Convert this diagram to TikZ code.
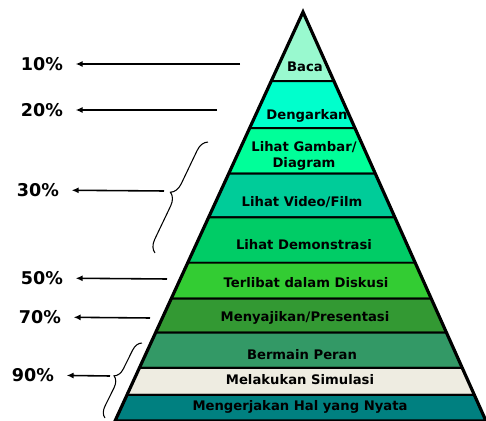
\documentclass[tikz,border=0pt]{standalone}
\usepackage{fontspec}
\setmainfont{DejaVu Sans}
\usetikzlibrary{arrows.meta,calc,decorations.pathreplacing}
\definecolor{cBaca}{HTML}{99F9CF}
\definecolor{cDengar}{HTML}{00FFCC}
\definecolor{cGambar}{HTML}{00FF99}
\definecolor{cVideo}{HTML}{00CC99}
\definecolor{cDemo}{HTML}{00CC66}
\definecolor{cDiskusi}{HTML}{33CC33}
\definecolor{cSaji}{HTML}{339933}
\definecolor{cPeran}{HTML}{339966}
\definecolor{cSimulasi}{HTML}{EEECE1}
\definecolor{cNyata}{HTML}{008080}
\tikzset{%
  band/.style={draw=black, line width=1.1pt},
  lapis/.style={font=\fontsize{7.5}{9}\selectfont\bfseries, text centered, align=center, inner sep=0pt},
  persen/.style={font=\fontsize{10}{12}\selectfont\bfseries, inner sep=0pt},
  line/.style={draw, line width=0.9pt, color=black, -{Latex[length=4pt,width=3.5pt]}, shorten >=7pt},
  kurung/.style={draw, line width=0.6pt, decorate, decoration={brace, amplitude=#1}},
}
\newcommand{\lapisan}[3]{%
  \path [band, fill=#3] ($(puncak)!#1!(kiri)$) -- ($(puncak)!#2!(kiri)$) -- ($(puncak)!#2!(kanan)$) -- ($(puncak)!#1!(kanan)$) -- cycle;}

\begin{document}
\begin{tikzpicture}[x=0.02cm, y=-0.02cm]
  \useasboundingbox (0,0) rectangle (486,421);
  \coordinate (puncak) at (303,12);
  \coordinate (kiri) at (115,421);
  \coordinate (kanan) at (486,421);

  % pyramid layers
  \lapisan{0}{0.169}{cBaca}
  \lapisan{0.169}{0.284}{cDengar}
  \lapisan{0.284}{0.395}{cGambar}
  \lapisan{0.395}{0.502}{cVideo}
  \lapisan{0.502}{0.613}{cDemo}
  \lapisan{0.613}{0.701}{cDiskusi}
  \lapisan{0.701}{0.784}{cSaji}
  \lapisan{0.784}{0.870}{cPeran}
  \lapisan{0.870}{0.936}{cSimulasi}
  \lapisan{0.936}{1}{cNyata}
  \draw [line width=1.8pt] (puncak) -- (kiri) -- (kanan) -- cycle;

  \node [lapis] (l1) at (305,67) {Baca};
  \node [lapis] (l2) at (307,116) {Dengarkan};
  \node [lapis] (l3) at (304,156) {Lihat Gambar/\\Diagram};
  \node [lapis] (l4) at (302,202) {Lihat Video/Film};
  \node [lapis] (l5) at (304,245) {Lihat Demonstrasi};
  \node [lapis] (l6) at (306,283) {Terlibat dalam Diskusi};
  \node [lapis] (l7) at (305,318) {Menyajikan/Presentasi};
  \node [lapis] (l8) at (302,355) {Bermain Peran};
  \node [lapis] (l9) at (300,380) {Melakukan Simulasi};
  \node [lapis] (l10) at (300,407) {Mengerjakan Hal yang Nyata};

  % percentages
  \node [persen] (p10) at (42,64) {10\%};
  \node [persen] (p20) at (42,110) {20\%};
  \node [persen] (p30) at (38,190) {30\%};
  \node [persen] (p50) at (42,278) {50\%};
  \node [persen] (p70) at (40,317) {70\%};
  \node [persen] (p90) at (33,375) {90\%};

  \coordinate (a10) at (240,64);
  \coordinate (a20) at (217,110);
  \coordinate (a30) at (164,191);
  \coordinate (a50) at (167,279);
  \coordinate (a70) at (150,318);
  \coordinate (a90) at (110,376);

  \path [line] (a10) -- (p10);
  \path [line] (a20) -- (p20);
  \path [line] (a30) -- (p30);
  \path [line] (a50) -- (p50);
  \path [line] (a70) -- (p70);
  \path [line] (a90) -- (p90);

  % braces
  \path [kurung=7pt] (155,253) -- (208,142);
  \path [kurung=6pt] (105,418) -- (142,343);
\end{tikzpicture}
\end{document}
